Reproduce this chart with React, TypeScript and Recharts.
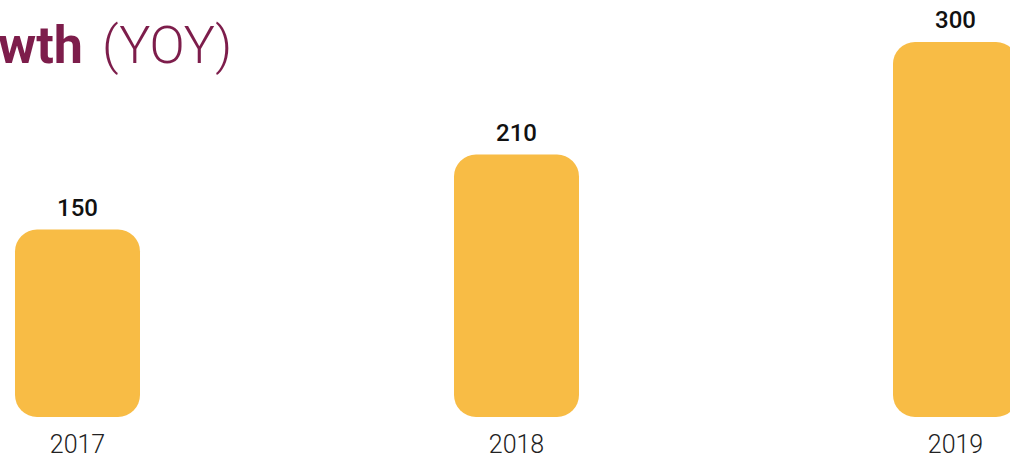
import React from "react";
import { BarChart, Bar, XAxis, YAxis, LabelList } from "recharts";

const years = ["2017", "2018", "2019"];
const values = [150, 210, 300];
const titleBold = "Growth";
const titleLight = "(YOY)";

const data = years.map((y, i) => ({ year: y, value: values[i] }));

export default function App() {
  return (
    <div
      style={{
        position: "absolute",
        left: 0,
        top: 0,
        width: 1010,
        height: 459,
        overflow: "hidden",
        background: "#fff",
      }}
    >
      <div style={{ position: "absolute", left: -142.5, top: 0 }}>
        <BarChart
          width={1317}
          height={459}
          data={data}
          margin={{ top: 42, right: 0, bottom: 0, left: 0 }}
        >
          <XAxis
            dataKey="year"
            axisLine={false}
            tickLine={false}
            height={42}
            tickMargin={12}
            tick={{ fontSize: 25, fill: "#222", fontFamily: "Roboto, 'Helvetica Neue', sans-serif", fontWeight: 300 }}
          />
          <YAxis hide domain={[0, 300]} />
          <Bar
            dataKey="value"
            fill="#F8BC45"
            barSize={125}
            radius={22}
            isAnimationActive={false}
          >
            <LabelList
              dataKey="value"
              position="top"
              offset={14}
              style={{ fontSize: 24, fill: "#111", fontFamily: "Roboto, 'Helvetica Neue', sans-serif", fontWeight: 500 }}
            />
          </Bar>
        </BarChart>
      </div>
      <svg
        width={1010}
        height={100}
        style={{ position: "absolute", left: 0, top: 0, pointerEvents: "none" }}
      >
        <text
          x={83}
          y={63}
          textAnchor="end"
          fill="#7D1D4B"
          style={{ fontSize: 52, fontWeight: 700, fontFamily: "Roboto, 'Helvetica Neue', sans-serif" }}
        >
          {titleBold}
        </text>
        <text
          x={102}
          y={63}
          textAnchor="start"
          fill="#7D1D4B"
          style={{ fontSize: 52, fontWeight: 300, fontFamily: "Roboto, 'Helvetica Neue', sans-serif" }}
        >
          {titleLight}
        </text>
      </svg>
    </div>
  );
}
